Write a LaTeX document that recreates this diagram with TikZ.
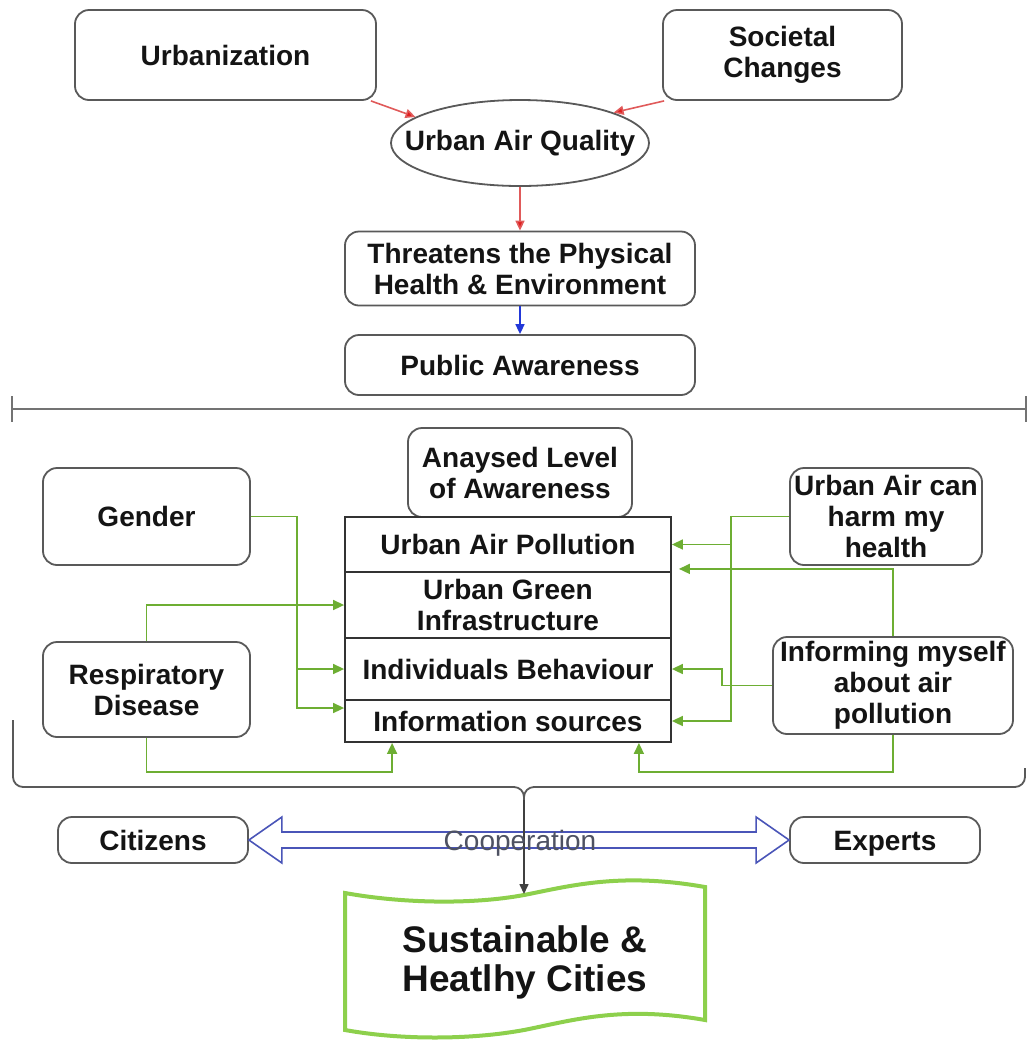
\documentclass[tikz,border=0pt]{standalone}
\usepackage{fontspec}
\setmainfont{Liberation Sans}
\usetikzlibrary{shapes.geometric,arrows.meta,calc}
\definecolor{lgreen}{HTML}{6DAE33}
\definecolor{limeb}{HTML}{8DD04C}
\definecolor{rline}{HTML}{E05A5A}
\definecolor{rtip}{HTML}{E01E1E}
\definecolor{barr}{HTML}{2238D8}
\definecolor{dblc}{HTML}{4A55B8}
\definecolor{coopc}{HTML}{4E5262}
\begin{document}
\begin{tikzpicture}[x=0.5pt,y=-0.5pt,
  every node/.style={font=\fontsize{14}{15.5}\selectfont\bfseries, text=black!92, align=center, inner sep=0pt},
  rbox/.style={draw=black!65, line width=0.9pt, rounded corners=7pt, fill=white},
  capbox/.style={text height=10pt, text depth=0pt},
  row/.style={draw=black!80, line width=0.9pt, minimum width=163pt},
  garr/.style={draw=lgreen, line width=0.8pt, -{Triangle[length=5.5pt,width=5pt]}},
  rarr/.style={draw=rline, line width=0.8pt, -{Triangle[length=5pt,width=4.5pt,fill=rtip]}},
  barrow/.style={draw=barr, line width=0.8pt, -{Triangle[length=5pt,width=4.5pt]}},
  darr/.style={draw=black!75, line width=0.8pt, -{Triangle[length=5pt,width=4.5pt]}},
  bracepath/.style={draw=black!65, line width=0.9pt, rounded corners=5pt},
  sepline/.style={draw=black!55, line width=1.4pt},
  dbl/.style={draw=dblc, line width=0.8pt, fill=white, line join=miter},
  susshape/.style={draw=limeb, line width=2pt, fill=white}
]
\useasboundingbox (0,0) rectangle (1028,1041);

% top part
\node[rbox, minimum width=150.5pt, minimum height=45pt] (urb) at (225.5,55) {Urbanization};
\node[rbox, minimum width=119.5pt, minimum height=45pt] (soc) at (782.5,55) {Societal\\Changes};
\node[ellipse, draw=black!65, line width=0.9pt, minimum width=129pt, minimum height=43pt] (uaq) at (520,143) {\makebox[0pt]{Urban Air Quality}};
\node[rbox, minimum width=175pt, minimum height=37pt] (thr) at (520,268.5) {Threatens the Physical\\Health \& Environment};
\node[rbox, minimum width=175pt, minimum height=30pt] (pub) at (520,365) {Public Awareness};

\draw[rarr] ([xshift=-3pt]urb.south east) -- (uaq.166);
\draw[rarr] ([xshift=1pt]soc.south west) -- (uaq.18);
\draw[rarr] (uaq.south) -- (thr.north);
\draw[barrow] (thr.south) -- (pub.north);

% separator
\draw[sepline] (12,409) -- (1026,409);
\draw[sepline, line width=1pt] (12,396) -- (12,422);
\draw[sepline, line width=1pt] (1026,396) -- (1026,422);

% middle part
\node[rbox, minimum width=112pt, minimum height=44.5pt] (ana) at (520,472.5) {Anaysed Level\\of Awareness};
\node[row, minimum height=27.5pt] (r1) at (508,544.5) {Urban Air Pollution};
\node[row, minimum height=33pt] (r2) at (508,605) {Urban Green\\Infrastructure};
\node[row, minimum height=31pt] (r3) at (508,669) {Individuals Behaviour};
\node[row, minimum height=21pt] (r4) at (508,721) {Information sources};

\node[rbox, minimum width=103.5pt, minimum height=48.5pt] (gen) at (146.5,516.5) {Gender};
\node[rbox, minimum width=103.5pt, minimum height=47.5pt] (res) at (146.5,689.5) {Respiratory\\Disease};
\node[rbox, minimum width=96pt, minimum height=48.5pt] (harm) at (886,516.5) {Urban Air can\\harm my\\health};
\node[rbox, minimum width=120pt, minimum height=48.5pt] (inf) at (893,685.5) {Informing myself\\about air\\pollution};

\coordinate (gx) at (297,0);
\coordinate (hx) at (731,0);
% gender
\draw[garr] (gen.east) -- (gen.east -| gx) |- ($(r4.west)+(0,-13)$);
\draw[garr] (gx |- r3.west) -- (r3.west);
% respiratory
\draw[garr] (res.north) |- (r2.west);
\draw[garr] (res.south) -- ++(0,34) -| ($(r4.south west)+(48,0)$);
% urban air can harm
\draw[garr] (harm.west) -- (harm.west -| hx) |- (r4.east);
\draw[garr] (hx |- r1.east) -- (r1.east);
% informing
\draw[garr] (inf.north) |- ($(r1.south east)+(7,-4)$);
\draw[garr] (inf.west) -- ++(-50,0) |- (r3.east);
\draw[garr] (inf.south) -- ++(0,37) -| ($(r4.south east)+(-33,0)$);

% brace
\coordinate (cusp) at (524,800);
\draw[bracepath] (13,720) -- (13,787) -- (524,787) -- (cusp);
\draw[bracepath] (1025,768) -- (1025,787) -- (524,787) -- (cusp);

% bottom part
\node[rbox, capbox, minimum width=95pt, minimum height=23pt] (cit) at (153,840) {Citizens};
\node[rbox, capbox, minimum width=95pt, minimum height=23pt] (exp) at (885,840) {Experts};
\draw[dbl] (cit.east) -- ($(cit.east)+(33,-23)$) -- ($(cit.east)+(33,-8)$) -- ($(exp.west)+(-33,-8)$) -- ($(exp.west)+(-33,-23)$) -- (exp.west) -- ($(exp.west)+(-33,23)$) -- ($(exp.west)+(-33,8)$) -- ($(cit.east)+(33,8)$) -- ($(cit.east)+(33,23)$) -- cycle;

\draw[susshape] (345,893) .. controls (400,903) and (470,905) .. (524,895) .. controls (570,886) and (620,872) .. (705,887) -- (705,1020) .. controls (620,1005) and (570,1021) .. (524,1030) .. controls (470,1040) and (400,1040) .. (345,1030) -- cycle;
\coordinate (sustop) at (524,894);
\node[font=\fontsize{18.5}{19.5}\selectfont\bfseries] (sus) at (525,962) {Sustainable \&\\Heatlhy Cities};

\draw[darr] (cusp) -- (sustop);
\node[font=\fontsize{14}{16}\selectfont, text=coopc] (coop) at (520,843) {Cooperation};
\end{tikzpicture}
\end{document}
